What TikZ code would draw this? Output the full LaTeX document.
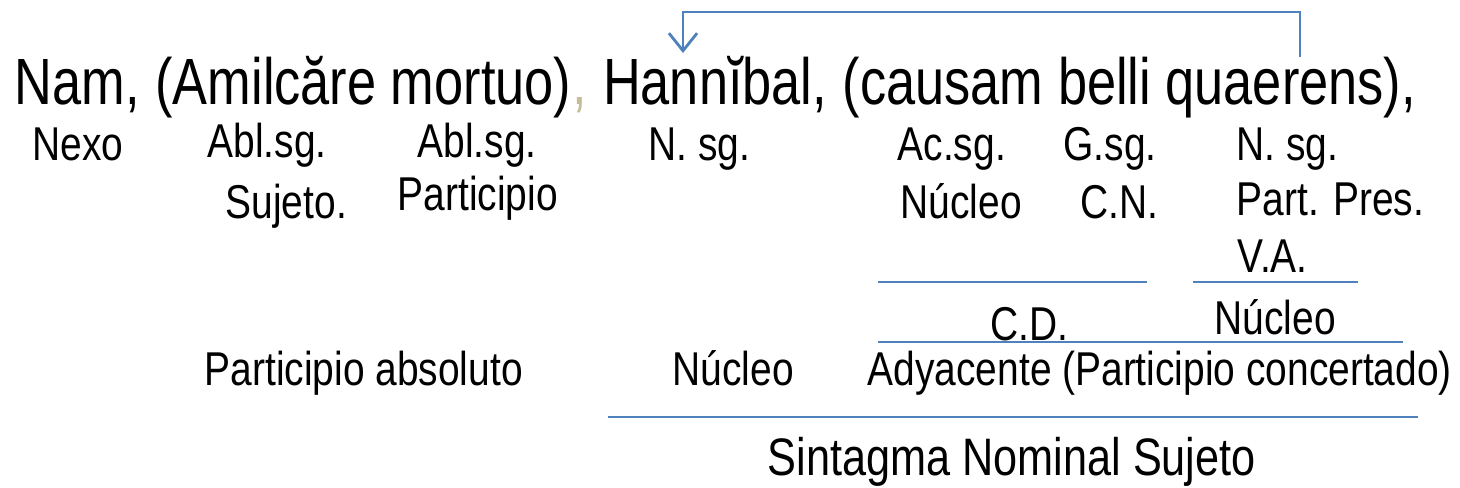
\documentclass[tikz,border=0pt]{standalone}
\usepackage{fontspec}
\setmainfont{Liberation Sans}[FakeStretch=0.82]
\newfontfamily\latinfont{Liberation Sans}[FakeStretch=0.8]
\usetikzlibrary{positioning,arrows.meta}
\definecolor{lineblue}{RGB}{79,129,189}
\definecolor{commatan}{RGB}{196,189,151}

\begin{document}
\begin{tikzpicture}[
    x=0.01cm, y=-0.01cm,
    word/.style={inner sep=0pt, font=\latinfont\fontsize{18.6}{20}\selectfont},
    gram/.style={inner sep=0pt, anchor=base west, font=\fontsize{13.5}{15}\selectfont},
    rule/.style={draw=lineblue, line width=0.8pt},
    link/.style={draw=lineblue, line width=0.8pt, -{Straight Barb[length=5pt,width=8pt]}}
]
\useasboundingbox (0,0) rectangle (1460,487);

% Latin sentence
\node[word, anchor=base west] (nam) at (14,104) {Nam,};
\node[word, base right=4.1pt of nam] (amil) {(Amilcăre mortuo)};
\node[word, base right=0pt of amil, text=commatan] (coma) {,};
\node[word, base right=4.1pt of coma] (hann) {Hannĭbal,};
\node[word, base right=4.1pt of hann] (causa) {(causam belli quaerens),};

% Reference arrow
\coordinate (src) at (1300,57);
\coordinate (dst) at (683,53);
\draw[link] (src) -- ++(0,-45) -| (dst);

% Morphology
\node[gram] (nexo) at (32,160) {Nexo};
\node[gram] (abl1) at (207,157) {Abl.sg.};
\node[gram] (suj) at (225,218) {Sujeto.};
\node[gram] (abl2) at (417,157) {Abl.sg.};
\node[gram] (part) at (397,210) {Participio};
\node[gram] (nsg1) at (648,160) {N. sg.};
\node[gram] (acsg) at (897,160) {Ac.sg.};
\node[gram] (gsg) at (1063,160) {G.sg.};
\node[gram] (nsg2) at (1236,160) {N. sg.};

% Functions
\node[gram] (nuc1) at (900,218) {Núcleo};
\node[gram] (cn) at (1080,218) {C.N.};
\node[gram] (pres) at (1236,215) {Part. Pres.};
\node[gram] (va) at (1237,272) {V.A.};
\draw[rule] (878,282) -- (1147,282);
\draw[rule] (1193,282) -- (1358,282);

\node[gram] (cd) at (990,340) {C.D.};
\node[gram] (nuc2) at (1214,334) {Núcleo};
\draw[rule] (878,342) -- (1403,342);

\node[gram] (pabs) at (204,385) {Participio absoluto};
\node[gram] (nuc3) at (672,385) {Núcleo};
\node[gram] (ady) at (867,385) {Adyacente (Participio concertado)};
\draw[rule] (608,417) -- (1418,417);

% Phrase
\node[gram, font=\fontsize{15}{17}\selectfont] (sns) at (767,475) {Sintagma Nominal Sujeto};

\end{tikzpicture}
\end{document}
